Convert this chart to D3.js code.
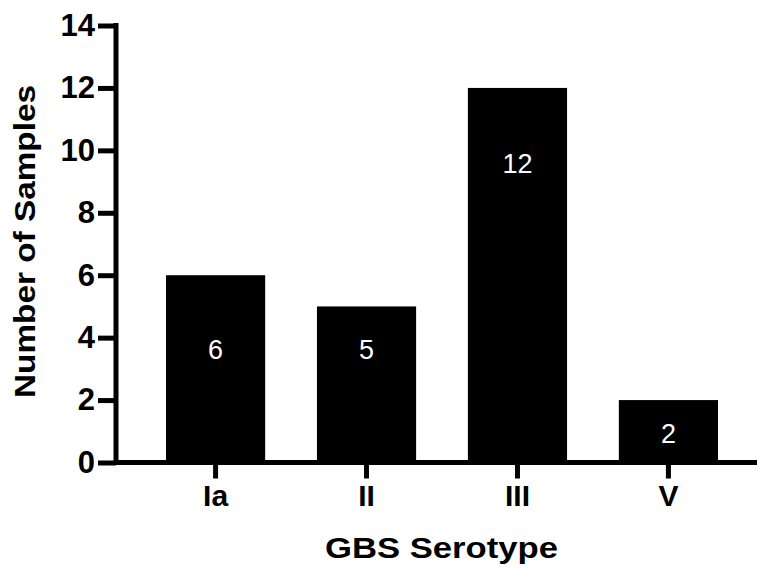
<!DOCTYPE html>
<html><head><meta charset="utf-8">
<script src="https://cdn.jsdelivr.net/npm/d3@7"></script>
<style>body{margin:0;background:#fff}svg{display:block}</style>
</head><body>
<script>
const categories = ["Ia", "II", "III", "V"];
const values = [6, 5, 12, 2];
const labelAt = [3.62, 3.62, 9.58, 0.93];
const yTicks = [0, 2, 4, 6, 8, 10, 12, 14];
const xTitle = "GBS Serotype";
const yTitle = "Number of Samples";

const W = 758, H = 569;
const font = "'Liberation Sans', Arial, Helvetica, sans-serif";
const svg = d3.select("body").append("svg").attr("width", W).attr("height", H);

const y = d3.scaleLinear().domain([0, 14]).range([462.5, 25.5]);
const x = d3.scaleBand().domain(categories).range([166, 718]).paddingInner(0.343).paddingOuter(0);

// bars
svg.selectAll("rect.bar").data(values).join("rect")
  .attr("class", "bar")
  .attr("x", (d, i) => x(categories[i]))
  .attr("width", x.bandwidth())
  .attr("y", d => y(d))
  .attr("height", d => y(0) - y(d))
  .attr("fill", "#000");

// bar value labels
svg.selectAll("text.val").data(values).join("text")
  .attr("class", "val")
  .attr("x", (d, i) => x(categories[i]) + x.bandwidth() / 2)
  .attr("y", (d, i) => y(labelAt[i]))
  .attr("dy", "0.36em")
  .attr("text-anchor", "middle")
  .attr("fill", "#fff")
  .style("font-family", font)
  .style("font-size", "27px")
  .text(d => d);

// y axis
const yAxis = svg.append("g").attr("transform", "translate(116,0)")
  .call(d3.axisLeft(y).tickValues(yTicks).tickSize(18).tickPadding(3).tickSizeOuter(0));
yAxis.select(".domain").attr("stroke", "#000").attr("stroke-width", 5)
  .attr("d", `M0,${y(14) - 2.5}V${y(0) + 2.5}`);
yAxis.selectAll(".tick line").attr("stroke", "#000").attr("stroke-width", 5);
yAxis.selectAll(".tick text").attr("fill", "#000")
  .style("font-family", font).style("font-weight", "bold").style("font-size", "31px");

// x axis
const xAxis = svg.append("g").attr("transform", `translate(0,${y(0)})`)
  .call(d3.axisBottom(x).tickSize(16).tickPadding(6).tickSizeOuter(0));
xAxis.select(".domain").attr("stroke", "#000").attr("stroke-width", 5)
  .attr("d", "M113.5,0H757");
xAxis.selectAll(".tick line").attr("stroke", "#000").attr("stroke-width", 5);
xAxis.selectAll(".tick text").attr("fill", "#000")
  .style("font-family", font).style("font-weight", "bold").style("font-size", "30px");

// titles
svg.append("text").attr("x", 441.5).attr("y", 558).attr("text-anchor", "middle")
  .attr("textLength", 233).attr("lengthAdjust", "spacingAndGlyphs")
  .style("font-family", font).style("font-weight", "bold").style("font-size", "29px")
  .text(xTitle);
svg.append("text").attr("transform", "translate(35,241.5) rotate(-90)").attr("text-anchor", "middle")
  .attr("textLength", 313).attr("lengthAdjust", "spacingAndGlyphs")
  .style("font-family", font).style("font-weight", "bold").style("font-size", "30px")
  .text(yTitle);
</script>
</body></html>
